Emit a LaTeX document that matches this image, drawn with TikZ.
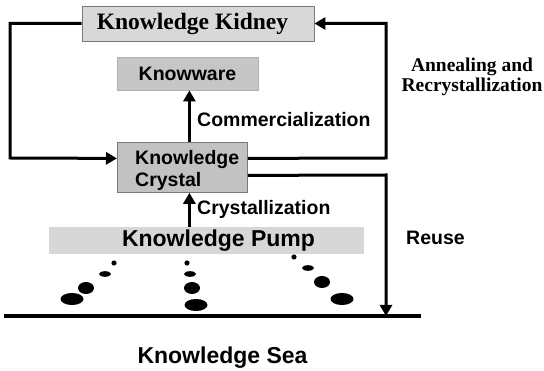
\documentclass[tikz,border=0pt]{standalone}
\usepackage{fontspec}
\setmainfont{Liberation Serif}
\setsansfont{Liberation Sans}
\usetikzlibrary{arrows.meta}
\definecolor{kidneyfill}{HTML}{D8D8D8}
\definecolor{wareFill}{HTML}{C6C6C6}
\definecolor{crystalfill}{HTML}{C2C2C2}
\definecolor{pumpfill}{HTML}{D7D7D7}
\definecolor{boxline}{HTML}{7A7A7A}
\tikzset{
  conn/.style={line width=3pt, -{Triangle[length=11pt,width=12pt]}},
  plainconn/.style={line width=3pt},
  sanslbl/.style={font=\sffamily\bfseries\fontsize{19.5}{22}\selectfont, inner sep=0pt},
  seriflbl/.style={font=\rmfamily\bfseries\fontsize{19.5}{20}\selectfont, inner sep=0pt},
  graybox/.style={draw=boxline, line width=0.8pt, inner sep=0pt},
  drop/.style={fill=black}
}
\begin{document}
\begin{tikzpicture}[x=1pt,y=-1pt]
\useasboundingbox (0,0) rectangle (544,371);
% boxes
\node[graybox, fill=kidneyfill, minimum width=232pt, minimum height=35pt,
      font=\rmfamily\bfseries\fontsize{23.5}{26}\selectfont] (kidney) at (198,23.5) {\hspace*{-11pt}Knowledge Kidney};
\node[graybox, draw=boxline!60, fill=wareFill, minimum width=141pt, minimum height=33pt,
      font=\sffamily\bfseries\fontsize{19.5}{22}\selectfont] (knowware) at (187.5,73.5) {Knowware};
\node[graybox, fill=crystalfill, minimum width=130pt, minimum height=50pt, anchor=north west] (crystal) at (117,142) {};
\node[sanslbl, anchor=north west, align=left] (crystaltext) at (135,150) {Knowledge\\Crystal};
\node[inner sep=0pt, fill=pumpfill, minimum width=315pt, minimum height=27pt,
      font=\sffamily\bfseries\fontsize{23}{26}\selectfont] (pump) at (206.5,240.5) {\hspace*{24pt}Knowledge Pump};
% labels
\node[sanslbl, anchor=west] (comm) at (197,120) {Commercialization};
\node[sanslbl, anchor=west] (cryst) at (197,209) {Crystallization};
\node[sanslbl, anchor=west] (reuse) at (406,238) {Reuse};
\node[seriflbl, align=center] (anneal) at (472,77) {Annealing and\\Recrystallization};
\node[font=\sffamily\bfseries\fontsize{23}{26}\selectfont, inner sep=0pt] (sea) at (222.5,358) {Knowledge Sea};
% sea line
\coordinate (sealeft) at (4,316);
\coordinate (searight) at (421,316);
\coordinate (seahit) at (386,316);
\draw[line width=4pt] (sealeft) -- (searight);
% connectors
\draw[conn] (kidney.west) -- (10,23.5) -- (10,158) -- ([yshift=9pt]crystal.west);
\draw[conn] ([yshift=9pt]crystal.east) -- (386,158) -- (386,23.5) -- (kidney.east);
\draw[conn] ([yshift=-8pt]crystal.east) -- (386,175) -- (seahit);
\draw[conn] ([xshift=7pt]crystal.north) -- ([xshift=7pt]crystal.north |- knowware.south);
\draw[conn] ([xshift=7pt]crystal.south |- pump.north) -- ([xshift=7pt]crystal.south);
% drops
\fill[drop] (114,263) circle (2.6pt);
\fill[drop] (105,274) ellipse (6pt and 2.8pt);
\fill[drop] (86,288) ellipse (8pt and 6pt);
\fill[drop] (72,299) ellipse (11.5pt and 6pt);
\fill[drop] (187,263) circle (2.6pt);
\fill[drop] (190,274) ellipse (6pt and 2.8pt);
\fill[drop] (192,288) ellipse (8pt and 6pt);
\fill[drop] (196,305) ellipse (11.5pt and 6pt);
\fill[drop] (294,257) circle (2.6pt);
\fill[drop] (308,268) ellipse (6pt and 2.8pt);
\fill[drop] (322,282) ellipse (8pt and 6pt);
\fill[drop] (342,299) ellipse (11.5pt and 6pt);
\end{tikzpicture}
\end{document}
